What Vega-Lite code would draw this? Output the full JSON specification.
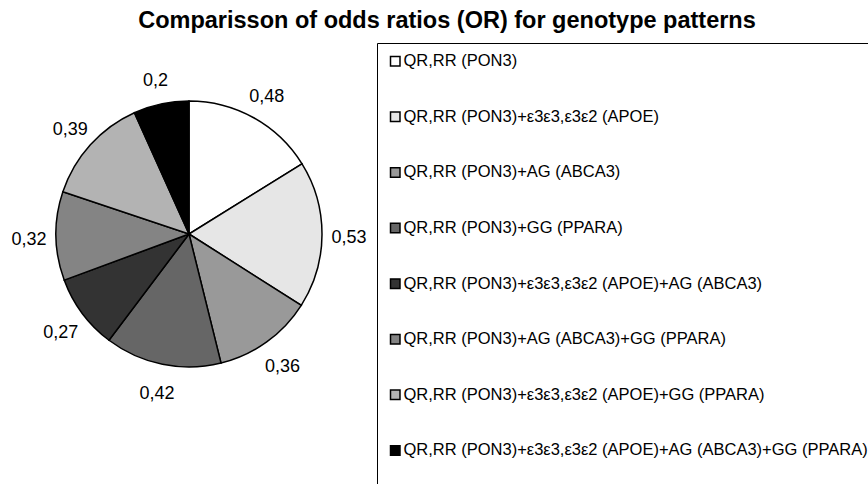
{
  "$schema": "https://vega.github.io/schema/vega-lite/v6.json",
  "width": 378,
  "height": 388,
  "autosize": {"type": "none"},
  "padding": {"left": 0, "top": 40, "right": 490, "bottom": 56},
  "background": "white",
  "title": {
    "text": "Comparisson of odds ratios (OR) for genotype patterns",
    "font": "Liberation Sans",
    "fontSize": 23.5,
    "fontWeight": "bold",
    "color": "black",
    "anchor": "middle",
    "frame": "group",
    "baseline": "alphabetic",
    "offset": -11,
    "dx": 258
  },
  "data": {
    "values": [
      {"id": 1, "pattern": "QR,RR (PON3)", "or": 0.48},
      {"id": 2, "pattern": "QR,RR (PON3)+ε3ε3,ε3ε2 (APOE)", "or": 0.53},
      {"id": 3, "pattern": "QR,RR (PON3)+AG (ABCA3)", "or": 0.36},
      {"id": 4, "pattern": "QR,RR (PON3)+GG (PPARA)", "or": 0.42},
      {"id": 5, "pattern": "QR,RR (PON3)+ε3ε3,ε3ε2 (APOE)+AG (ABCA3)", "or": 0.27},
      {"id": 6, "pattern": "QR,RR (PON3)+AG (ABCA3)+GG (PPARA)", "or": 0.32},
      {"id": 7, "pattern": "QR,RR (PON3)+ε3ε3,ε3ε2 (APOE)+GG (PPARA)", "or": 0.39},
      {"id": 8, "pattern": "QR,RR (PON3)+ε3ε3,ε3ε2 (APOE)+AG (ABCA3)+GG (PPARA)", "or": 0.2}
    ]
  },
  "encoding": {
    "theta": {"field": "or", "type": "quantitative", "stack": true},
    "order": {"field": "id", "type": "quantitative"}
  },
  "layer": [
    {
      "mark": {"type": "arc", "outerRadius": 133, "stroke": "black", "strokeWidth": 1.5},
      "encoding": {
        "color": {
          "field": "pattern",
          "type": "nominal",
          "sort": null,
          "scale": {
            "domain": [
              "QR,RR (PON3)",
              "QR,RR (PON3)+ε3ε3,ε3ε2 (APOE)",
              "QR,RR (PON3)+AG (ABCA3)",
              "QR,RR (PON3)+GG (PPARA)",
              "QR,RR (PON3)+ε3ε3,ε3ε2 (APOE)+AG (ABCA3)",
              "QR,RR (PON3)+AG (ABCA3)+GG (PPARA)",
              "QR,RR (PON3)+ε3ε3,ε3ε2 (APOE)+GG (PPARA)",
              "QR,RR (PON3)+ε3ε3,ε3ε2 (APOE)+AG (ABCA3)+GG (PPARA)"
            ],
            "range": ["#ffffff", "#e6e6e6", "#999999", "#666666", "#333333", "#848484", "#b3b3b3", "#000000"]
          },
          "legend": {
            "orient": "none",
            "legendX": 377,
            "legendY": 3,
            "title": " ",
            "titleOrient": "bottom",
            "titleFontSize": 16,
            "titlePadding": 20,
            "padding": 10,
            "strokeColor": "black",
            "fillColor": "white",
            "symbolType": "square",
            "symbolSize": 90,
            "symbolStrokeColor": "black",
            "symbolStrokeWidth": 1.5,
            "symbolOpacity": 1,
            "labelFont": "Liberation Sans",
            "labelFontSize": 16.5,
            "labelColor": "black",
            "labelOffset": 0,
            "labelLimit": 0,
            "rowPadding": 38.6
          }
        }
      }
    },
    {
      "mark": {"type": "text", "radius": 160, "dy": 3, "font": "Liberation Sans", "fontSize": 18, "color": "black"},
      "encoding": {
        "text": {"field": "or", "type": "quantitative", "format": ".2~f"}
      }
    }
  ],
  "config": {
    "view": {"stroke": null},
    "locale": {
      "number": {"decimal": ",", "thousands": ".", "grouping": [3], "currency": ["", " €"]}
    }
  }
}
